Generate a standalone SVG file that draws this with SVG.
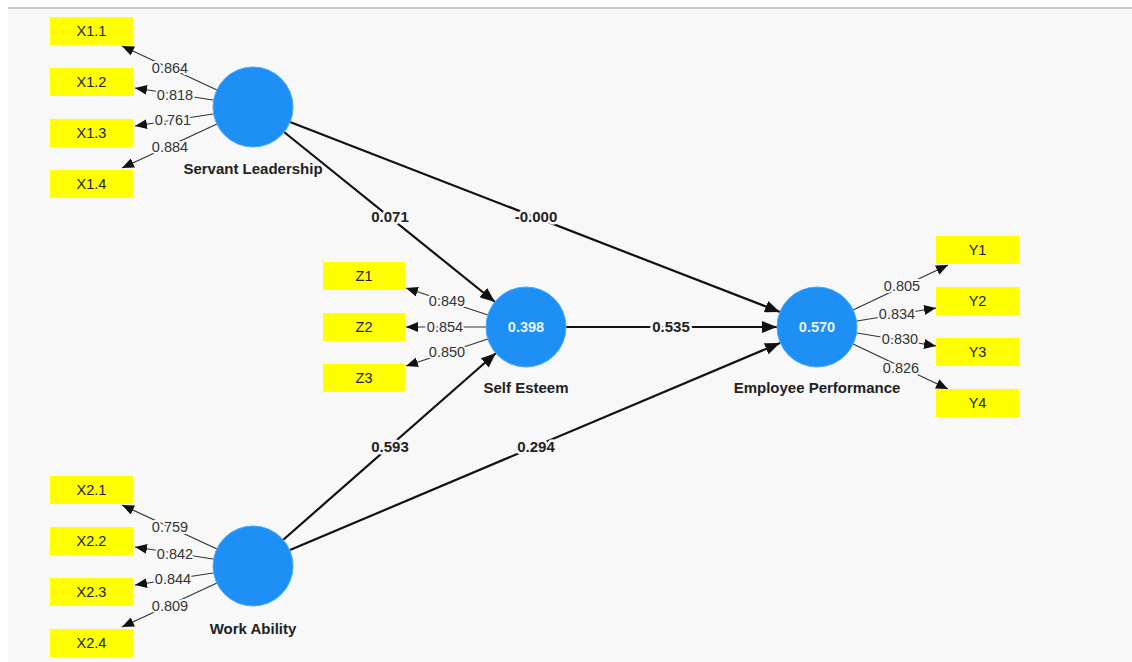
<svg xmlns="http://www.w3.org/2000/svg" width="1132" height="662" viewBox="0 0 1132 662">
<style>
.ind rect{fill:#ffff00}
.ind text{font-family:"Liberation Sans",Arial,sans-serif;font-size:14.5px;fill:#222;text-anchor:middle}
.lv circle{fill:#1e8ff5;stroke:#4aa8ff;stroke-width:1}
.lv text.r2{font-family:"Liberation Sans",Arial,sans-serif;font-size:14.5px;font-weight:bold;fill:#eaf4ff;text-anchor:middle}
.lv text.nm{font-family:"Liberation Sans",Arial,sans-serif;font-size:15px;font-weight:bold;fill:#222;text-anchor:middle}
.ld{stroke:#333;stroke-width:1.2;fill:none;marker-end:url(#sm)}
.pc{stroke:#111;stroke-width:2.2;fill:none;marker-end:url(#bg)}
.ldl{font-family:"Liberation Sans",Arial,sans-serif;font-size:14.5px;fill:#333;text-anchor:middle;stroke:#f8f8f8;stroke-width:4;paint-order:stroke;stroke-linejoin:round}
.pcl{font-family:"Liberation Sans",Arial,sans-serif;font-size:15px;font-weight:bold;fill:#222;text-anchor:middle;stroke:#f8f8f8;stroke-width:5;paint-order:stroke;stroke-linejoin:round}
</style>
<defs>
<marker id="sm" markerUnits="userSpaceOnUse" markerWidth="12" markerHeight="10" viewBox="0 0 12 10" refX="12" refY="5" orient="auto"><path d="M0,0 L12,5 L0,10 z" fill="#111"/></marker>
<marker id="bg" markerUnits="userSpaceOnUse" markerWidth="15" markerHeight="12" viewBox="0 0 15 12" refX="15" refY="6" orient="auto"><path d="M0,0 L15,6 L0,12 z" fill="#111"/></marker>
</defs>
<rect x="0" y="0" width="1132" height="662" fill="#ffffff"/>
<rect x="8" y="8" width="1124" height="654" fill="#f8f8f8"/>
<line x1="8" y1="8" x2="1132" y2="8" stroke="#c8c8c8" stroke-width="2"/>

<g id="connectors">
<line class="pc" x1="284" y1="132" x2="495" y2="302"/>
<line class="pc" x1="290" y1="122" x2="780" y2="312"/>
<line class="pc" x1="566" y1="327" x2="777" y2="327"/>
<line class="pc" x1="283" y1="540" x2="496" y2="353"/>
<line class="pc" x1="290" y1="550" x2="780" y2="343"/>
<line class="ld" x1="217" y1="90" x2="122" y2="46"/>
<line class="ld" x1="213" y1="100" x2="135" y2="88"/>
<line class="ld" x1="213" y1="114" x2="135" y2="126"/>
<line class="ld" x1="217" y1="124" x2="122" y2="168"/>
<line class="ld" x1="217" y1="549" x2="122" y2="505"/>
<line class="ld" x1="213" y1="559" x2="135" y2="547"/>
<line class="ld" x1="213" y1="573" x2="135" y2="585"/>
<line class="ld" x1="217" y1="583" x2="122" y2="627"/>
<line class="ld" x1="488" y1="315" x2="406" y2="288"/>
<line class="ld" x1="486" y1="327" x2="406" y2="327"/>
<line class="ld" x1="488" y1="339" x2="406" y2="366"/>
<line class="ld" x1="853" y1="310" x2="948" y2="265"/>
<line class="ld" x1="857" y1="321" x2="936" y2="308"/>
<line class="ld" x1="857" y1="333" x2="936" y2="346"/>
<line class="ld" x1="853" y1="344" x2="948" y2="389"/>
<text class="pcl" x="390" y="222">0.071</text>
<text class="pcl" x="536" y="222">-0.000</text>
<text class="pcl" x="671" y="332">0.535</text>
<text class="pcl" x="390" y="452">0.593</text>
<text class="pcl" x="536" y="452">0.294</text>
<text class="ldl" x="170" y="73">0.864</text>
<text class="ldl" x="175" y="100">0.818</text>
<text class="ldl" x="173" y="125">0.761</text>
<text class="ldl" x="170" y="152">0.884</text>
<text class="ldl" x="170" y="532">0.759</text>
<text class="ldl" x="175" y="559">0.842</text>
<text class="ldl" x="173" y="584">0.844</text>
<text class="ldl" x="170" y="611">0.809</text>
<text class="ldl" x="447" y="306">0.849</text>
<text class="ldl" x="445" y="332">0.854</text>
<text class="ldl" x="447" y="357">0.850</text>
<text class="ldl" x="902" y="291">0.805</text>
<text class="ldl" x="897" y="319">0.834</text>
<text class="ldl" x="900" y="344">0.830</text>
<text class="ldl" x="901" y="373">0.826</text>
</g>

<g id="X1.1" class="ind"><rect x="50" y="17" width="83" height="28"/><text x="91.5" y="36">X1.1</text></g>
<g id="X1.2" class="ind"><rect x="50" y="68" width="83" height="28"/><text x="91.5" y="87">X1.2</text></g>
<g id="X1.3" class="ind"><rect x="50" y="119" width="83" height="28"/><text x="91.5" y="138">X1.3</text></g>
<g id="X1.4" class="ind"><rect x="50" y="170" width="83" height="28"/><text x="91.5" y="189">X1.4</text></g>
<g id="X2.1" class="ind"><rect x="50" y="476" width="83" height="28"/><text x="91.5" y="495">X2.1</text></g>
<g id="X2.2" class="ind"><rect x="50" y="527" width="83" height="28"/><text x="91.5" y="546">X2.2</text></g>
<g id="X2.3" class="ind"><rect x="50" y="578" width="83" height="28"/><text x="91.5" y="597">X2.3</text></g>
<g id="X2.4" class="ind"><rect x="50" y="629" width="83" height="28"/><text x="91.5" y="648">X2.4</text></g>
<g id="Z1" class="ind"><rect x="323" y="262" width="82" height="28"/><text x="364" y="281">Z1</text></g>
<g id="Z2" class="ind"><rect x="323" y="313" width="82" height="28"/><text x="364" y="332">Z2</text></g>
<g id="Z3" class="ind"><rect x="323" y="364" width="82" height="28"/><text x="364" y="383">Z3</text></g>
<g id="Y1" class="ind"><rect x="936" y="236" width="83" height="28"/><text x="977.5" y="255">Y1</text></g>
<g id="Y2" class="ind"><rect x="936" y="287" width="83" height="28"/><text x="977.5" y="306">Y2</text></g>
<g id="Y3" class="ind"><rect x="936" y="338" width="83" height="28"/><text x="977.5" y="357">Y3</text></g>
<g id="Y4" class="ind"><rect x="936" y="389" width="83" height="28"/><text x="977.5" y="408">Y4</text></g>

<g id="servant-leadership" class="lv"><circle cx="253" cy="107" r="40"/><text class="nm" x="253" y="174">Servant Leadership</text></g>
<g id="work-ability" class="lv"><circle cx="253" cy="566" r="40"/><text class="nm" x="253" y="634">Work Ability</text></g>
<g id="self-esteem" class="lv"><circle cx="526" cy="327" r="40"/><text class="r2" x="526" y="332">0.398</text><text class="nm" x="526" y="393">Self Esteem</text></g>
<g id="employee-performance" class="lv"><circle cx="817" cy="327" r="40"/><text class="r2" x="817" y="332">0.570</text><text class="nm" x="817" y="393">Employee Performance</text></g>
</svg>
